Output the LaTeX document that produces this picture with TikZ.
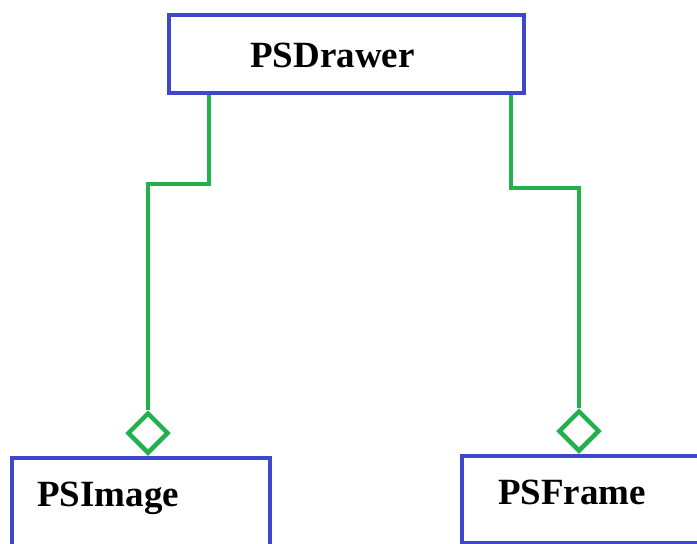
\documentclass[tikz,border=0pt]{standalone}
\usepackage{fontspec}
\setmainfont{Liberation Serif}
\usetikzlibrary{shapes.geometric}
\definecolor{boxblue}{HTML}{3F48CC}
\definecolor{linkgreen}{HTML}{22B14C}
\begin{document}
\begin{tikzpicture}[x=1pt,y=-1pt,
  box/.style={draw=boxblue,line width=4pt,rectangle,inner sep=0pt,anchor=north west},
  lbl/.style={font=\fontsize{37}{40}\selectfont\bfseries,inner sep=0pt,anchor=base west},
  agg/.style={draw=linkgreen,line width=4.5pt,diamond,inner sep=0pt,minimum width=41pt,minimum height=41pt,fill=white},
  link/.style={draw=linkgreen,line width=4pt}]
\useasboundingbox (0,0) rectangle (697,544);
\clip (0,0) rectangle (697,544);
\node[box,minimum width=355pt,minimum height=78pt] (drawerbox) at (167,13) {};
\node[lbl] (drawer) at (250,67) {PSDrawer};
\node[box,minimum width=258pt,minimum height=130pt] (imagebox) at (10,456) {};
\node[lbl] (image) at (37,506) {PSImage};
\node[box,minimum width=260pt,minimum height=87pt] (framebox) at (460,454) {};
\node[lbl] (frame) at (498,504) {PSFrame};
\node[agg] (dimage) at (148,433) {};
\node[agg] (dframe) at (579,431) {};
\coordinate (limg) at (148,184);
\coordinate (lfrm) at (579,188);
\draw[link] (drawerbox.south west -| 209,0) |- (limg) -- (dimage.north);
\draw[link] (drawerbox.south west -| 511,0) |- (lfrm) -- (dframe.north);
\end{tikzpicture}
\end{document}
